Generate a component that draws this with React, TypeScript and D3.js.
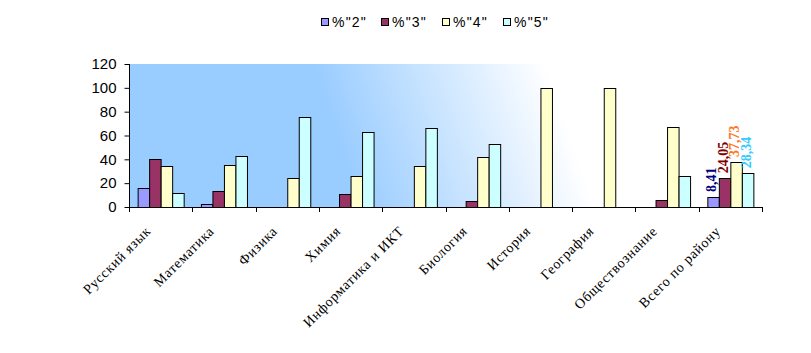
import React, { useEffect, useRef } from 'react';
import * as d3 from 'd3';

// subjects on the x axis
const subjects = [
  'Русский язык',
  'Математика',
  'Физика',
  'Химия',
  'Информатика и ИКТ',
  'Биология',
  'История',
  'География',
  'Обществознание',
  'Всего по району',
];

const seriesNames = ['%"2"', '%"3"', '%"4"', '%"5"'];

// values per series
const grade2 = [16, 2.5, 0, 0, 0, 0, 0, 0, 0, 8.41];
const grade3 = [40, 13.5, 0, 10.5, 0, 5, 0, 0, 6, 24.05];
const grade4 = [34, 35.5, 24.5, 26, 34, 42, 100, 100, 67.5, 37.73];
const grade5 = [12, 43, 75.5, 63, 66.5, 53, 0, 0, 26, 28.34];

const yTicks = [0, 20, 40, 60, 80, 100, 120];

const colors = ['#9999FF', '#993366', '#FFFFCC', '#CCFFFF'];
const labelColors = ['#000080', '#800000', '#FF7722', '#33CCFF'];

function App() {
  const svgRef = useRef<SVGSVGElement>(null);

  useEffect(() => {
    const width = 811;
    const height = 353;
    const svg = d3.select(svgRef.current)
      .attr('width', width)
      .attr('height', height);
    svg.selectAll('*').remove();

    const left = 129;
    const right = 762;
    const top = 64;
    const bottom = 207;

    const series = [grade2, grade3, grade4, grade5];

    const x = d3.scaleBand().domain(subjects).range([left, right]).padding(0);
    const inner = d3.scaleBand()
      .domain(seriesNames)
      .range([0, x.bandwidth()])
      .paddingInner(0)
      .paddingOuter(0.75);
    const y = d3.scaleLinear().domain([0, 120]).range([bottom, top]);

    // background gradient of plot area
    const defs = svg.append('defs');
    const grad = defs.append('linearGradient')
      .attr('id', 'bg')
      .attr('gradientUnits', 'userSpaceOnUse')
      .attr('x1', 360).attr('y1', 207)
      .attr('x2', 570).attr('y2', 135);
    grad.append('stop').attr('offset', '0%').attr('stop-color', '#99CCFF');
    grad.append('stop').attr('offset', '100%').attr('stop-color', '#FFFFFF');

    svg.append('rect')
      .attr('x', left)
      .attr('y', top)
      .attr('width', right - left)
      .attr('height', bottom - top)
      .attr('fill', 'url(#bg)');

    // bars
    series.forEach((vals, si) => {
      svg.append('g')
        .selectAll('rect')
        .data(vals.map((v, i) => ({ v, cat: subjects[i] })))
        .enter()
        .filter(d => d.v > 0)
        .append('rect')
        .attr('x', d => (x(d.cat) as number) + (inner(seriesNames[si]) as number) + 0.5)
        .attr('y', d => Math.round(y(d.v)) + 0.5)
        .attr('width', inner.bandwidth())
        .attr('height', d => bottom - Math.round(y(d.v)))
        .attr('fill', colors[si])
        .attr('stroke', '#000')
        .attr('stroke-width', 1);
    });

    // value labels for the last group
    const last = subjects.length - 1;
    series.forEach((vals, si) => {
      const v = vals[last];
      const cx = (x(subjects[last]) as number) + (inner(seriesNames[si]) as number) + inner.bandwidth() / 2;
      svg.append('text')
        .attr('transform', `translate(${cx + 3},${y(v) - 5}) rotate(-90)`)
        .attr('font-family', '"Liberation Serif", "Times New Roman", serif')
        .attr('font-weight', 'bold')
        .attr('font-size', '14px')
        .attr('fill', labelColors[si])
        .text(v.toFixed(2).replace('.', ','));
    });

    // y axis
    const yAxis = svg.append('g')
      .attr('transform', `translate(${left + 0.5},0)`)
      .call(d3.axisLeft(y).tickValues(yTicks).tickSize(5).tickPadding(8));
    yAxis.select('.domain').attr('stroke', '#000').attr('d', `M0,${top}V${bottom}`);
    yAxis.selectAll('line').attr('stroke', '#000');
    yAxis.selectAll('text')
      .attr('font-family', '"Liberation Sans", Arial, sans-serif')
      .attr('font-size', '15px')
      .attr('fill', '#000');

    // x axis
    const xAxisG = svg.append('g');
    xAxisG.append('line')
      .attr('x1', left).attr('x2', right)
      .attr('y1', bottom + 0.5).attr('y2', bottom + 0.5)
      .attr('stroke', '#000');
    const bounds = subjects.map(s => x(s) as number).concat([right]);
    xAxisG.selectAll('.tk')
      .data(bounds)
      .enter()
      .append('line')
      .attr('x1', d => Math.round(d) + 0.5)
      .attr('x2', d => Math.round(d) + 0.5)
      .attr('y1', bottom)
      .attr('y2', bottom + 5)
      .attr('stroke', '#000');

    xAxisG.selectAll('.lbl')
      .data(subjects)
      .enter()
      .append('text')
      .attr('transform', d => `translate(${(x(d) as number) + x.bandwidth() / 2 - 9},${bottom + 25}) rotate(-45)`)
      .attr('text-anchor', 'end')
      .attr('font-family', '"Liberation Serif", "Times New Roman", serif')
      .attr('font-size', '14px')
      .attr('letter-spacing', '0.7px')
      .attr('fill', '#000')
      .text(d => d);

    // legend
    const legend = svg.append('g').attr('transform', 'translate(321,17)');
    const itemX = [0, 60, 121, 182];
    seriesNames.forEach((name, i) => {
      const g = legend.append('g').attr('transform', `translate(${itemX[i]},0)`);
      g.append('rect')
        .attr('x', 0.5).attr('y', 1.5)
        .attr('width', 7).attr('height', 7)
        .attr('fill', colors[i])
        .attr('stroke', '#000');
      g.append('text')
        .attr('x', 11)
        .attr('y', 10)
        .attr('font-family', '"Liberation Sans", Arial, sans-serif')
        .attr('font-size', '14px')
        .attr('letter-spacing', '1.2px')
        .attr('fill', '#000')
        .text(name);
    });
  }, []);

  return (
    <div style={{ position: 'absolute', left: 0, top: 0 }}>
      <svg ref={svgRef}></svg>
    </div>
  );
}

export default App;
